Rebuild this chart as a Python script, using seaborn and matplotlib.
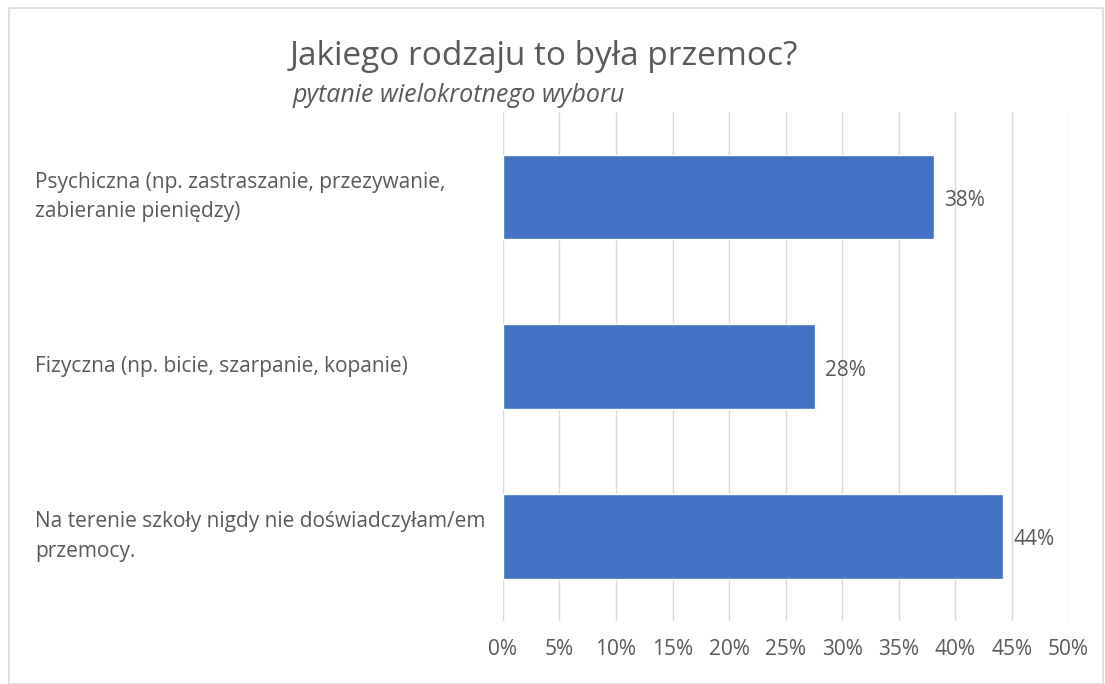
import pandas as pd
import matplotlib.pyplot as plt
import matplotlib.transforms as mtransforms
from matplotlib.patches import Rectangle
import seaborn as sns

# Data
categories = [
    "Psychiczna (np. zastraszanie, przezywanie,\nzabieranie pieniędzy)",
    "Fizyczna (np. bicie, szarpanie, kopanie)",
    "Na terenie szkoły nigdy nie doświadczyłam/em\nprzemocy.",
]
values = [38.1, 27.6, 44.2]
x_ticks = [0, 5, 10, 15, 20, 25, 30, 35, 40, 45, 50]

sns.set_style("white")
plt.rcParams["font.family"] = ["Open Sans", "DejaVu Sans"]
text_color = "#595959"

df = pd.DataFrame({"category": categories, "value": values})

fig = plt.figure(figsize=(11.05, 6.84), dpi=100)
ax = fig.add_axes([0.455, 0.092, 0.512, 0.744])

sns.barplot(data=df, x="value", y="category", color="#4472C4",
            width=0.5, saturation=1, ax=ax, orient="h")

ax.set_xlim(0, 50)
ax.set_ylim(2.5, -0.5)
ax.set_xticks(x_ticks)
ax.set_xticklabels([f"{t}%" for t in x_ticks], color=text_color, fontsize=15)
ax.tick_params(axis="x", length=0, pad=13)
ax.grid(axis="x", color="#d9d9d9", linewidth=1)
ax.set_axisbelow(True)
for s in ax.spines.values():
    s.set_visible(False)
ax.set_xlabel("")
ax.set_ylabel("")
ax.set_yticklabels([])
ax.tick_params(axis="y", length=0)

# Category labels, left aligned at figure edge
trans = mtransforms.blended_transform_factory(fig.transFigure, ax.transData)
for i, cat in enumerate(categories):
    ax.text(0.032, i, cat, transform=trans, ha="left", va="center",
            fontsize=15, color=text_color, linespacing=1.55)

# Value labels
for i, v in enumerate(values):
    ax.text(v + 0.9, i + 0.02, f"{round(v)}%", ha="left", va="center",
            fontsize=15, color=text_color)

fig.text(0.262, 0.918, "Jakiego rodzaju to była przemoc?", fontsize=24,
         color=text_color, ha="left", va="center")
fig.text(0.265, 0.861, "pytanie wielokrotnego wyboru", fontsize=18,
         color=text_color, ha="left", va="center", style="italic")

# Chart border
fig.patches.append(Rectangle((0.008, 0.0), 0.99, 0.988, transform=fig.transFigure,
                             fill=False, edgecolor="#d9d9d9", linewidth=1.2))

fig.savefig("out.png", dpi=100)
